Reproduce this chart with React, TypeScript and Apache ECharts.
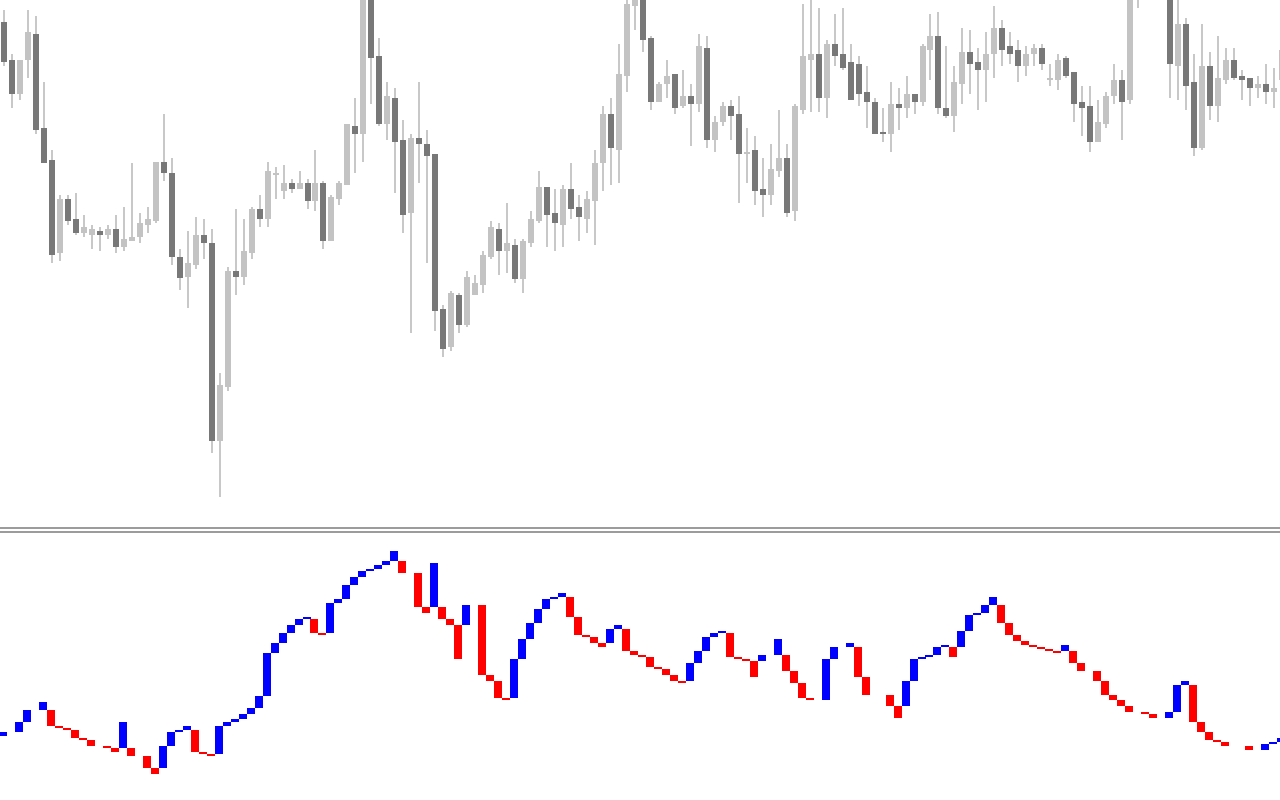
import { useEffect, useRef } from "react";
import * as echarts from "echarts";

// Price pane (bars 0..160)
const priceOpen = [
  578, 540, 506, 540, 566, 472, 440, 347, 401, 381,
  367, 365, 369, 365, 371, 353, 359, 363, 375, 379,
  438, 427, 343, 323, 335, 365, 357, 159, 213, 329,
  323, 347, 391, 381, 425, 409, 417, 411, 417, 399,
  417, 359, 401, 415, 474, 466, 610, 544, 476, 502,
  460, 387, 462, 456, 446, 291, 253, 305, 275, 305,
  315, 343, 371, 349, 355, 321, 357, 379, 413, 387,
  375, 411, 393, 381, 399, 437, 486, 450, 524, 594,
  610, 562, 498, 516, 526, 494, 504, 496, 552, 460,
  478, 494, 486, 446, 450, 411, 405, 429, 442, 389,
  490, 540, 546, 502, 556, 546, 538, 536, 508, 498,
  468, 466, 496, 492, 506, 498, 550, 564, 492, 484,
  516, 548, 538, 530, 546, 572, 554, 550, 534, 546,
  552, 520, 520, 542, 528, 498, 494, 458, 476, 504,
  520, 500, 640, 630, 660, 625, 620, 534, 576, 518,
  452, 534, 494, 520, 540, 524, 522, 512, 516, 508,
  520,
];
const priceClose = [
  538, 506, 540, 568, 470, 437, 345, 401, 379, 367,
  373, 371, 365, 371, 353, 361, 363, 377, 381, 438,
  427, 343, 322, 337, 365, 357, 159, 215, 329, 323,
  349, 391, 381, 429, 427, 417, 411, 417, 399, 417,
  359, 403, 417, 476, 466, 610, 542, 476, 504, 458,
  385, 462, 456, 444, 289, 251, 307, 275, 323, 317,
  345, 373, 349, 357, 321, 359, 381, 413, 385, 377,
  411, 391, 383, 401, 437, 486, 452, 526, 596, 615,
  560, 498, 516, 524, 492, 504, 496, 554, 460, 478,
  494, 484, 446, 448, 409, 405, 431, 442, 387, 494,
  544, 546, 502, 556, 544, 532, 500, 506, 498, 466,
  466, 496, 492, 506, 498, 554, 564, 492, 484, 518,
  548, 536, 530, 546, 572, 550, 546, 534, 546, 552,
  536, 522, 540, 524, 496, 492, 458, 478, 504, 520,
  498, 620, 615, 660, 635, 650, 536, 576, 514, 452,
  534, 494, 522, 540, 522, 520, 512, 516, 508, 512,
  550,
];
const priceLow = [
  534, 492, 500, 522, 466, 437, 337, 339, 375, 365,
  363, 351, 349, 361, 347, 349, 359, 357, 367, 377,
  419, 335, 310, 292, 331, 341, 147, 103, 209, 305,
  315, 341, 373, 373, 401, 401, 407, 411, 391, 389,
  351, 359, 395, 415, 427, 438, 496, 474, 460, 407,
  367, 267, 417, 337, 269, 243, 249, 267, 273, 305,
  307, 341, 325, 327, 317, 307, 353, 377, 353, 349,
  353, 381, 359, 367, 355, 409, 415, 417, 508, 570,
  548, 490, 498, 502, 486, 492, 454, 488, 452, 448,
  474, 460, 397, 417, 395, 383, 395, 423, 383, 379,
  486, 488, 488, 482, 534, 530, 500, 494, 472, 466,
  458, 448, 470, 482, 486, 494, 520, 486, 482, 468,
  496, 506, 490, 498, 522, 534, 536, 518, 524, 534,
  530, 514, 510, 522, 478, 464, 448, 458, 472, 496,
  460, 496, 592, 620, 625, 615, 502, 500, 490, 444,
  450, 480, 478, 516, 520, 500, 494, 502, 496, 492,
  505,
];
const priceHigh = [
  590, 546, 540, 590, 584, 518, 450, 405, 405, 407,
  385, 375, 373, 375, 385, 393, 437, 387, 393, 438,
  486, 442, 351, 369, 383, 381, 371, 227, 333, 391,
  381, 393, 405, 438, 433, 435, 421, 429, 421, 450,
  419, 405, 419, 476, 502, 625, 620, 562, 518, 512,
  480, 466, 518, 470, 446, 295, 309, 307, 329, 325,
  349, 379, 377, 397, 361, 361, 389, 429, 413, 411,
  415, 437, 405, 409, 450, 494, 502, 556, 610, 625,
  620, 564, 518, 540, 526, 530, 516, 566, 564, 484,
  498, 500, 504, 472, 464, 442, 456, 490, 456, 496,
  596, 605, 592, 560, 586, 592, 556, 544, 534, 502,
  492, 518, 512, 524, 506, 556, 586, 588, 554, 534,
  572, 570, 552, 568, 594, 580, 568, 560, 554, 556,
  556, 536, 546, 544, 528, 514, 514, 500, 508, 536,
  530, 640, 650, 670, 675, 660, 630, 610, 582, 546,
  576, 548, 564, 552, 552, 530, 522, 524, 536, 532,
  560,
];

// Indicator pane: each bar spans from signalFrom to signalTo
const signalFrom = [
  64, 68, 68, 78, 90, 90, 90, 74, 72, 70,
  62, 60, 54, 54, 52, 52, 52, 44, 44, 32,
  32, 54, 68, 70, 70, 48, 46, 46, 74, 78,
  81, 86, 92, 104, 147, 157, 167, 175, 181, 181,
  167, 167, 197, 201, 215, 223, 229, 231, 235, 239,
  239, 227, 227, 193, 193, 193, 181, 175, 175, 195,
  195, 125, 119, 102, 102, 141, 161, 177, 191, 201,
  203, 203, 183, 165, 163, 157, 157, 171, 171, 149,
  145, 143, 133, 131, 125, 119, 119, 137, 149, 163,
  167, 167, 143, 141, 139, 139, 145, 145, 145, 129,
  117, 102, 100, 100, 141, 153, 153, 153, 123, 105,
  105, 105, 94, 94, 119, 141, 143, 145, 153, 153,
  153, 169, 185, 187, 195, 195, 177, 165, 159, 155,
  153, 151, 149, 149, 149, 137, 129, 129, 119, 105,
  100, 94, 88, 88, 86, 82, 82, 88, 115, 115,
  78, 68, 60, 58, 54, 54, 54, 50, 50, 56,
  58,
];
const signalTo = [
  68, 68, 78, 90, 90, 98, 74, 72, 70, 62,
  60, 54, 54, 52, 48, 78, 44, 44, 32, 26,
  54, 68, 70, 74, 48, 46, 44, 74, 78, 81,
  86, 92, 104, 147, 157, 167, 175, 181, 183, 167,
  165, 197, 201, 215, 223, 229, 231, 235, 239, 249,
  227, 227, 193, 187, 237, 181, 175, 141, 195, 195,
  125, 119, 102, 100, 141, 161, 177, 191, 201, 203,
  207, 183, 165, 163, 157, 153, 171, 175, 149, 145,
  143, 133, 131, 125, 119, 117, 137, 149, 163, 167,
  169, 143, 141, 139, 123, 145, 145, 161, 129, 117,
  102, 100, 100, 141, 153, 153, 157, 123, 105, 105,
  105, 94, 82, 119, 141, 143, 145, 153, 155, 143,
  169, 185, 187, 195, 203, 177, 165, 159, 155, 153,
  151, 149, 147, 155, 137, 129, 129, 119, 105, 100,
  94, 88, 88, 86, 82, 82, 88, 115, 119, 78,
  68, 60, 58, 54, 54, 54, 50, 50, 56, 58,
  62,
];

const barIndex = priceOpen.map((_, i) => i);

const BULL = "#c3c3c3";
const BEAR = "#787878";
const WICK = "#c8c8c8";
const UP = "#0000ff";
const DOWN = "#ff0000";

// visible bar window: 1280px / 7.987px per bar
const X_MIN = -0.5;
const X_MAX = 159.76;

export default function App() {
  const ref = useRef<HTMLDivElement>(null);

  useEffect(() => {
    if (!ref.current) return;
    const chart = echarts.init(ref.current, null, { renderer: "svg" });

    const candleData = barIndex.map((i) => [i, priceOpen[i], priceClose[i], priceLow[i], priceHigh[i]]);
    const signalData = barIndex.map((i) => [i, signalFrom[i], signalTo[i]]);

    chart.setOption({
      animation: false,
      backgroundColor: "#ffffff",
      grid: [
        { left: 0, top: 0, width: 1280, height: 525 },
        { left: 0, top: 533, width: 1280, height: 267 },
      ],
      xAxis: [
        { type: "value", gridIndex: 0, min: X_MIN, max: X_MAX, show: false },
        { type: "value", gridIndex: 1, min: X_MIN, max: X_MAX, show: false },
      ],
      yAxis: [
        { type: "value", gridIndex: 0, min: 75, max: 600, show: false },
        { type: "value", gridIndex: 1, min: 0, max: 267, show: false },
      ],
      graphic: [
        { type: "rect", shape: { x: 0, y: 527, width: 1280, height: 2 }, style: { fill: "#9c9c9c" }, z: 10 },
        { type: "rect", shape: { x: 0, y: 531, width: 1280, height: 2 }, style: { fill: "#9c9c9c" }, z: 10 },
      ],
      series: [
        {
          type: "custom",
          xAxisIndex: 0,
          yAxisIndex: 0,
          data: candleData,
          encode: { x: 0, y: [1, 2, 3, 4] },
          clip: true,
          renderItem: (params: any, api: any) => {
            const k = api.value(0);
            const o = api.value(1);
            const c = api.value(2);
            const lo = api.value(3);
            const hi = api.value(4);
            const cx = Math.round(api.coord([k, o])[0]);
            const oy = api.coord([k, o])[1];
            const cy = api.coord([k, c])[1];
            const ly = api.coord([k, lo])[1];
            const hy = api.coord([k, hi])[1];
            const top = Math.min(oy, cy);
            const h = Math.max(Math.abs(oy - cy), 1.5);
            return {
              type: "group",
              children: [
                { type: "rect", shape: { x: cx - 1, y: hy, width: 2, height: ly - hy }, style: { fill: WICK } },
                { type: "rect", shape: { x: cx - 3, y: top, width: 6, height: h }, style: { fill: c >= o ? BULL : BEAR } },
              ],
            };
          },
        },
        {
          type: "custom",
          xAxisIndex: 1,
          yAxisIndex: 1,
          data: signalData,
          encode: { x: 0, y: [1, 2] },
          clip: true,
          renderItem: (params: any, api: any) => {
            const k = api.value(0);
            const a = api.value(1);
            const b = api.value(2);
            if (a === b) return { type: "group", children: [] };
            const cx = Math.round(api.coord([k, a])[0]);
            const ay = api.coord([k, a])[1];
            const by = api.coord([k, b])[1];
            return {
              type: "rect",
              shape: { x: cx - 5, y: Math.min(ay, by), width: 8, height: Math.abs(ay - by) },
              style: { fill: b > a ? UP : DOWN },
            };
          },
        },
      ],
    });

    return () => chart.dispose();
  }, []);

  return (
    <div
      ref={ref}
      style={{ position: "fixed", left: 0, top: 0, width: 1280, height: 800, background: "#ffffff" }}
    />
  );
}
